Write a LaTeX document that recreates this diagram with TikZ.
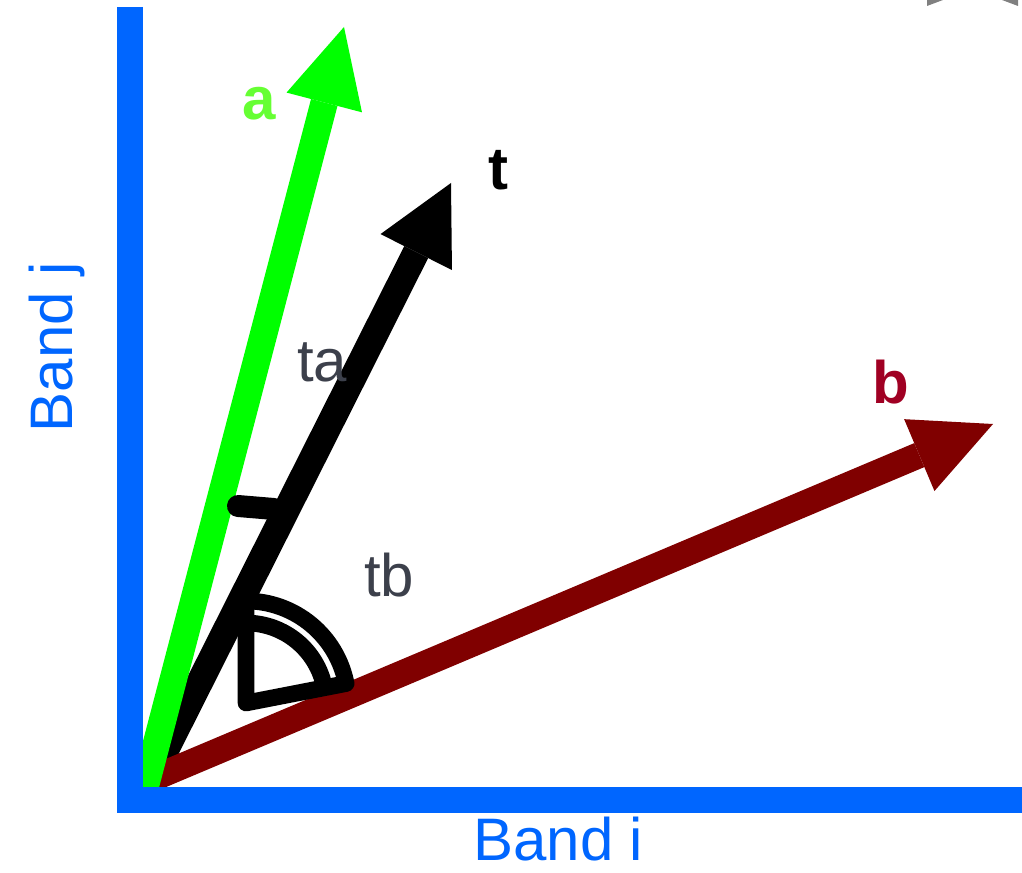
\documentclass[tikz,border=0pt]{standalone}
\usepackage{fontspec}
\setmainfont{Liberation Sans}
\usetikzlibrary{arrows.meta}
\definecolor{axisblue}{RGB}{0,102,255}
\definecolor{vecgreen}{RGB}{0,255,0}
\definecolor{labgreen}{RGB}{102,255,51}
\definecolor{vecbrown}{RGB}{128,0,0}
\definecolor{labred}{RGB}{160,0,35}
\definecolor{anglegray}{RGB}{60,64,75}
\definecolor{cornergray}{RGB}{128,128,128}
\begin{document}
\begin{tikzpicture}[x=0.75pt,y=-0.75pt,
  lbl/.style={inner sep=0pt,font=\fontsize{45}{54}\selectfont},
  boldlbl/.style={lbl,font=\fontsize{45}{54}\selectfont\bfseries},
  axisline/.style={draw=axisblue,line width=19.5pt,line join=miter},
  vec/.style={line width=#1},
  markline/.style={draw=black,line width=12.5pt,line join=round,line cap=round}]
\useasboundingbox (0,0) rectangle (1022,873);
% corner fragment
\fill[cornergray] (927,0) -- (943,0) -- (927,6) -- cycle;
\fill[cornergray] (1002,0) -- (1018,0) -- (1018,6) -- cycle;
% coordinates
\coordinate (Ot) at (147,787);
\coordinate (Ob) at (147,781);
\coordinate (Oa) at (143,795);
\coordinate (A) at (344,27);
\coordinate (T) at (451,183);
\coordinate (B) at (993,424);
\coordinate (C) at (246,703);
\coordinate (Ytop) at (129.5,7);
\coordinate (Ocorner) at (129.5,800);
\coordinate (Xend) at (1022,800);
% vectors
\draw[vec=20pt,black,-{Triangle[length=58pt,width=60pt,line width=0pt]}] (Ot) -- (T);
\draw[vec=19.5pt,vecbrown,-{Triangle[length=60pt,width=58.5pt,line width=0pt]}] (Ob) -- (B);
\draw[vec=20.5pt,vecgreen,-{Triangle[length=58.5pt,width=58.5pt,line width=0pt]}] (Oa) -- (A);
% angle marks
\coordinate (M1) at (238,506);
\coordinate (M2) at (274,509);
\draw[markline,line width=16.5pt] (M1) -- (M2);
\draw[markline] (C) -- ++(0,-102) arc[start angle=-90,end angle=-11,radius=102] -- cycle;
\draw[markline,line cap=butt] (C) ++(0,-80) arc[start angle=-90,end angle=-11,radius=80];
% axes
\draw[axisline] (Ytop) -- (Ocorner) -- (Xend);
% labels
\node[boldlbl,text=labgreen,anchor=base] (la) at (259,120) {a};
\node[boldlbl,text=black,anchor=base] (lt) at (498,190) {t};
\node[boldlbl,text=labred,anchor=base] (lb) at (891,404) {b};
\node[lbl,text=anglegray,anchor=base west] (lta) at (297,382) {ta};
\node[lbl,text=anglegray,anchor=base west] (ltb) at (364,597) {tb};
\node[lbl,text=axisblue,anchor=base west] (bi) at (473,860) {Band i};
\node[lbl,text=axisblue,anchor=base,rotate=90] (bj) at (72,347) {Band j};
\end{tikzpicture}
\end{document}
